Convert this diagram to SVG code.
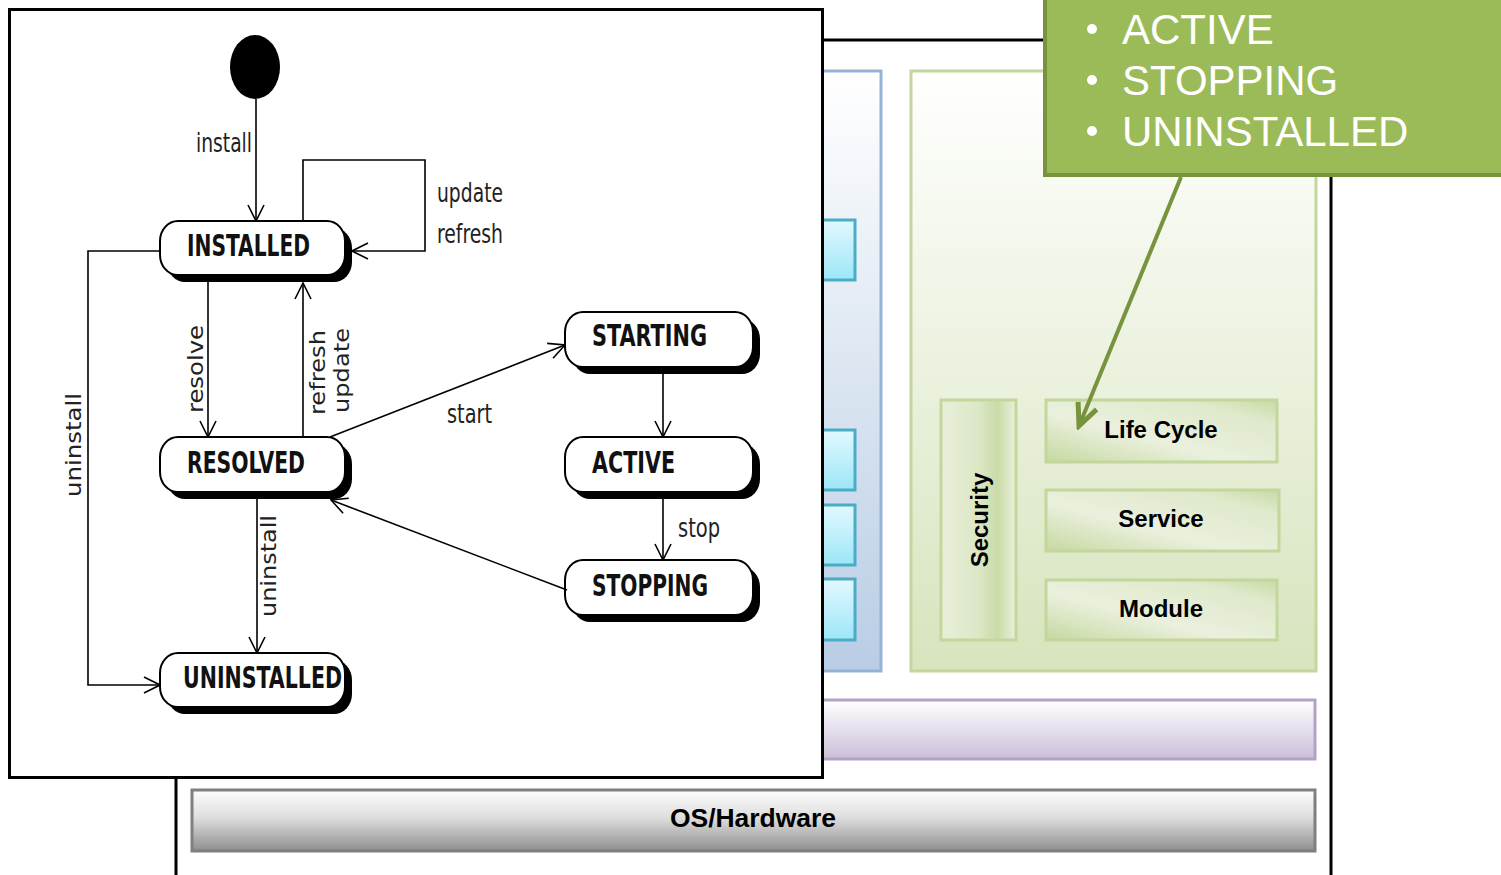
<svg xmlns="http://www.w3.org/2000/svg" width="1501" height="875" viewBox="0 0 1501 875">
<defs>
<linearGradient id="gBlue" x1="0" y1="0" x2="0" y2="1"><stop offset="0" stop-color="#ffffff"/><stop offset="1" stop-color="#b9cde5"/></linearGradient>
<linearGradient id="gCyan" x1="0" y1="0" x2="0" y2="1"><stop offset="0" stop-color="#e2f9ff"/><stop offset="1" stop-color="#9ce6f7"/></linearGradient>
<linearGradient id="gGreen" x1="0" y1="0" x2="0" y2="1"><stop offset="0" stop-color="#ffffff"/><stop offset="1" stop-color="#d7e4bd"/></linearGradient>
<linearGradient id="gBox2" x1="0" y1="1" x2="1" y2="0"><stop offset="0" stop-color="#c6d8a0"/><stop offset="0.4" stop-color="#eaf0dd"/><stop offset="0.8" stop-color="#dfe9cb"/><stop offset="1" stop-color="#c8daa3"/></linearGradient>
<linearGradient id="gSec" x1="0" y1="0" x2="1" y2="0"><stop offset="0" stop-color="#e8efda"/><stop offset="0.5" stop-color="#dce7c6"/><stop offset="0.75" stop-color="#cadba6"/><stop offset="1" stop-color="#eaf0dd"/></linearGradient>
<linearGradient id="gPurple" x1="0" y1="0" x2="0" y2="1"><stop offset="0" stop-color="#ffffff"/><stop offset="1" stop-color="#cbbfd9"/></linearGradient>
<linearGradient id="gGray" x1="0" y1="0" x2="0" y2="1"><stop offset="0" stop-color="#fdfdfd"/><stop offset="0.45" stop-color="#dedede"/><stop offset="1" stop-color="#8e8e8e"/></linearGradient>
<marker id="open" viewBox="0 0 18 18" refX="17" refY="9" markerWidth="18" markerHeight="18" markerUnits="userSpaceOnUse" orient="auto">
<path d="M1,1 L17,9 L1,17" fill="none" stroke="#000" stroke-width="1.6"/>
</marker>
<marker id="greenArrow" viewBox="0 0 30 30" refX="26" refY="15" markerWidth="30" markerHeight="30" markerUnits="userSpaceOnUse" orient="auto">
<path d="M4,5 L26,15 L4,25" fill="none" stroke="#77933c" stroke-width="5" stroke-linejoin="miter"/>
</marker>
</defs>
<style>
.st{fill:#fff;stroke:#000;stroke-width:2}
.sh{fill:#000}
.sl{font-family:"DejaVu Sans Condensed","DejaVu Sans",sans-serif;font-weight:bold;font-size:30px;fill:#111}
.lb{font-family:"DejaVu Sans Condensed","DejaVu Sans",sans-serif;font-size:27px;fill:#222}
.lv{font-family:"DejaVu Sans Condensed","DejaVu Sans",sans-serif;font-size:21px;fill:#222}
.cn{fill:none;stroke:#000;stroke-width:1.6}
.gb{font-family:"Liberation Sans",Arial,sans-serif;font-weight:bold;font-size:24px;fill:#000}
.ct{font-family:"Liberation Sans",Arial,sans-serif;font-size:42px;fill:#fff}
</style>

<g id="background">
<rect x="176" y="40" width="1155" height="860" fill="#fff" stroke="#000" stroke-width="3"/>
</g>
<g id="blue-panel">
<rect x="700" y="71" width="181" height="600" fill="url(#gBlue)" stroke="#95b3d7" stroke-width="3"/>
<rect x="700" y="220" width="155" height="60" fill="url(#gCyan)" stroke="#4bacc6" stroke-width="3"/>
<rect x="700" y="430" width="155" height="60" fill="url(#gCyan)" stroke="#4bacc6" stroke-width="3"/>
<rect x="700" y="505" width="155" height="60" fill="url(#gCyan)" stroke="#4bacc6" stroke-width="3"/>
<rect x="700" y="579" width="155" height="61" fill="url(#gCyan)" stroke="#4bacc6" stroke-width="3"/>
</g>
<g id="green-panel">
<rect x="911" y="71" width="405" height="600" fill="url(#gGreen)" stroke="#c3d69b" stroke-width="3"/>
</g>
<g id="security">
<rect x="941" y="400" width="75" height="240" fill="url(#gSec)" stroke="#c3d69b" stroke-width="3"/>
<text class="gb" transform="translate(988,520) rotate(-90)" text-anchor="middle">Security</text>
</g>
<g id="lifecycle">
<rect x="1046" y="400" width="231" height="62" fill="url(#gBox2)" stroke="#c3d69b" stroke-width="3"/>
<text class="gb" x="1161" y="438" text-anchor="middle">Life Cycle</text>
</g>
<g id="service">
<rect x="1046" y="490" width="233" height="61" fill="url(#gBox2)" stroke="#c3d69b" stroke-width="3"/>
<text class="gb" x="1161" y="527" text-anchor="middle">Service</text>
</g>
<g id="module">
<rect x="1046" y="580" width="231" height="60" fill="url(#gBox2)" stroke="#c3d69b" stroke-width="3"/>
<text class="gb" x="1161" y="617" text-anchor="middle">Module</text>
</g>
<g id="purple-bar">
<rect x="192" y="700" width="1123" height="59" fill="url(#gPurple)" stroke="#b3a2c7" stroke-width="3"/>
</g>
<g id="os-hardware">
<rect x="192" y="790" width="1123" height="61" fill="url(#gGray)" stroke="#7f7f7f" stroke-width="3"/>
<text class="gb" x="753" y="827" text-anchor="middle" textLength="166" lengthAdjust="spacingAndGlyphs" style="font-size:25px">OS/Hardware</text>
</g>

<g id="state-diagram-panel">
<rect x="9.5" y="9.5" width="813" height="768" fill="#fff" stroke="#000" stroke-width="3"/>
</g>

<g id="initial">
<ellipse cx="255" cy="67" rx="25" ry="32" fill="#000"/>
</g>
<g id="INSTALLED">
<rect class="sh" x="167" y="228" width="185" height="54" rx="18" ry="20"/>
<rect class="st" x="160" y="221" width="185" height="54" rx="18" ry="20"/>
<text class="sl" x="187" y="256" textLength="123" lengthAdjust="spacingAndGlyphs">INSTALLED</text>
</g>
<g id="RESOLVED">
<rect class="sh" x="167" y="444" width="185" height="55" rx="18" ry="20"/>
<rect class="st" x="160" y="437" width="185" height="55" rx="18" ry="20"/>
<text class="sl" x="187" y="473" textLength="118" lengthAdjust="spacingAndGlyphs">RESOLVED</text>
</g>
<g id="UNINSTALLED">
<rect class="sh" x="167" y="660" width="185" height="54" rx="18" ry="20"/>
<rect class="st" x="160" y="653" width="185" height="54" rx="18" ry="20"/>
<text class="sl" x="183" y="688" textLength="159" lengthAdjust="spacingAndGlyphs">UNINSTALLED</text>
</g>
<g id="STARTING">
<rect class="sh" x="572" y="319" width="188" height="55" rx="18" ry="20"/>
<rect class="st" x="565" y="312" width="188" height="55" rx="18" ry="20"/>
<text class="sl" x="592" y="346" textLength="115" lengthAdjust="spacingAndGlyphs">STARTING</text>
</g>
<g id="ACTIVE">
<rect class="sh" x="572" y="444" width="188" height="55" rx="18" ry="20"/>
<rect class="st" x="565" y="437" width="188" height="55" rx="18" ry="20"/>
<text class="sl" x="592" y="473" textLength="83" lengthAdjust="spacingAndGlyphs">ACTIVE</text>
</g>
<g id="STOPPING">
<rect class="sh" x="572" y="567" width="188" height="55" rx="18" ry="20"/>
<rect class="st" x="565" y="560" width="188" height="55" rx="18" ry="20"/>
<text class="sl" x="592" y="596" textLength="116" lengthAdjust="spacingAndGlyphs">STOPPING</text>
</g>

<g id="connectors">
<path class="cn" d="M256,99 V221" marker-end="url(#open)"/>
<path class="cn" d="M303,221 V160 H425 V251 H352" marker-end="url(#open)"/>
<path class="cn" d="M208,282 V437" marker-end="url(#open)"/>
<path class="cn" d="M303,437 V283" marker-end="url(#open)"/>
<path class="cn" d="M330,437 L565,345" marker-end="url(#open)"/>
<path class="cn" d="M663,374 V437" marker-end="url(#open)"/>
<path class="cn" d="M663,499 V560" marker-end="url(#open)"/>
<path class="cn" d="M567,590 L331,500" marker-end="url(#open)"/>
<path class="cn" d="M257,499 V653" marker-end="url(#open)"/>
<path class="cn" d="M160,251 H88 V685 H160" marker-end="url(#open)"/>
<text class="lb" x="196" y="152" textLength="56" lengthAdjust="spacingAndGlyphs">install</text>
<text class="lb" x="437" y="202" textLength="66" lengthAdjust="spacingAndGlyphs">update</text>
<text class="lb" x="437" y="243" textLength="66" lengthAdjust="spacingAndGlyphs">refresh</text>
<text class="lb" x="447" y="423" textLength="45" lengthAdjust="spacingAndGlyphs">start</text>
<text class="lb" x="678" y="537" textLength="42" lengthAdjust="spacingAndGlyphs">stop</text>
<text class="lv" transform="translate(203,413) rotate(-90)" textLength="88" lengthAdjust="spacingAndGlyphs">resolve</text>
<text class="lv" transform="translate(325,415) rotate(-90)" textLength="85" lengthAdjust="spacingAndGlyphs">refresh</text>
<text class="lv" transform="translate(349,413) rotate(-90)" textLength="85" lengthAdjust="spacingAndGlyphs">update</text>
<text class="lv" transform="translate(81,497) rotate(-90)" textLength="104" lengthAdjust="spacingAndGlyphs">uninstall</text>
<text class="lv" transform="translate(276,617) rotate(-90)" textLength="102" lengthAdjust="spacingAndGlyphs">uninstall</text>
</g>

<g id="callout">
<rect x="1045" y="-10" width="470" height="185" fill="#9bbb59" stroke="#77933c" stroke-width="4"/>
<circle cx="1092" cy="29" r="5" fill="#fff"/>
<circle cx="1092" cy="80" r="5" fill="#fff"/>
<circle cx="1092" cy="131" r="5" fill="#fff"/>
<text class="ct" x="1122" y="44">ACTIVE</text>
<text class="ct" x="1122" y="95">STOPPING</text>
<text class="ct" x="1122" y="146">UNINSTALLED</text>
</g>
<g id="callout-pointer">
<path d="M1181,177 L1079,426" fill="none" stroke="#77933c" stroke-width="4" marker-end="url(#greenArrow)"/>
</g>
</svg>
